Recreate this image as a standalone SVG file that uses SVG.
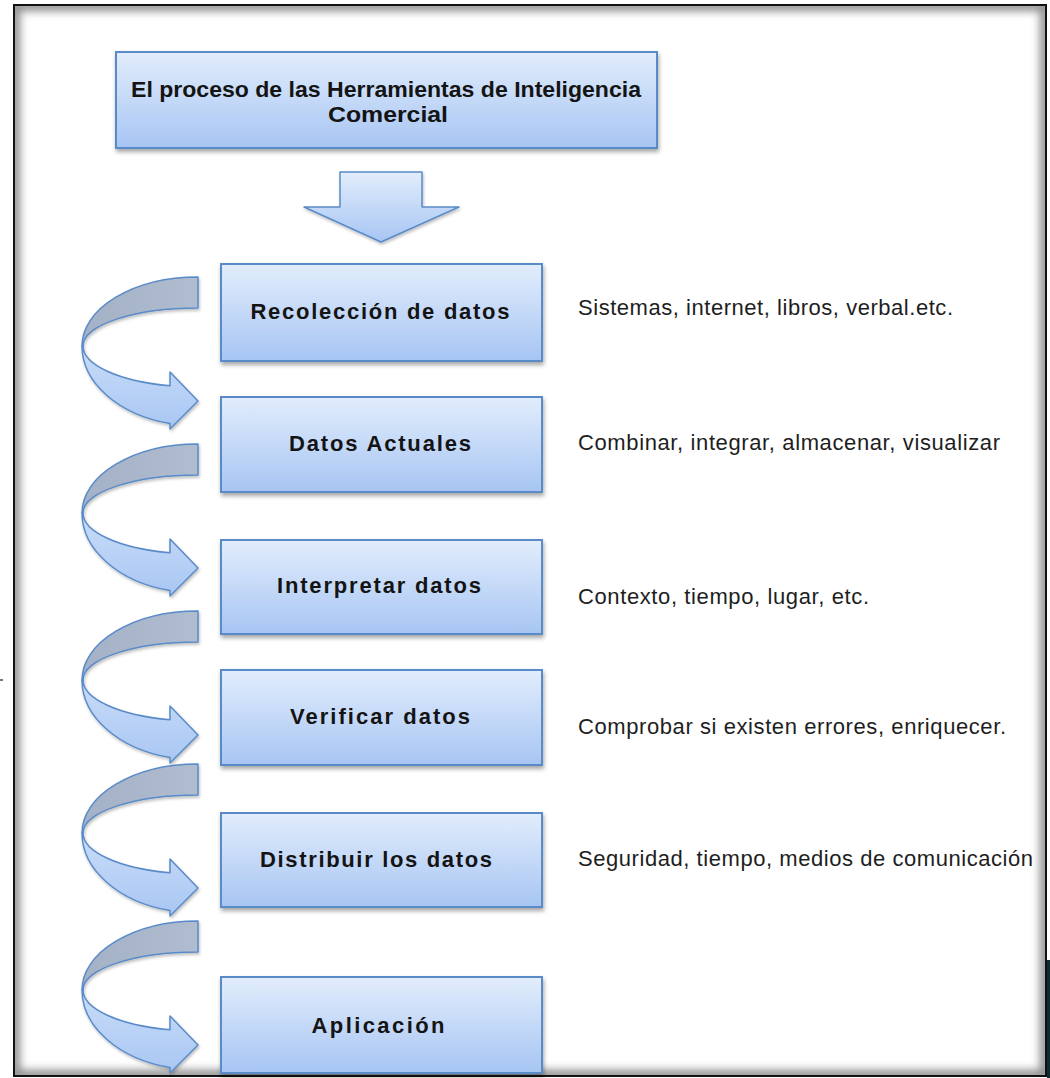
<svg xmlns="http://www.w3.org/2000/svg" width="1050" height="1078" viewBox="0 0 1050 1078">
<defs>
<style>
.box{fill:url(#boxGrad);stroke:#5a8bc9;stroke-width:2;filter:url(#shadow);}
.btxt{font-family:"Liberation Sans",Arial,sans-serif;font-weight:bold;font-size:22px;fill:#141414;text-anchor:middle;}
.ttxt{font-family:"Liberation Sans",Arial,sans-serif;font-weight:bold;font-size:22px;fill:#141414;text-anchor:middle;}
.rtxt{font-family:"Liberation Sans",Arial,sans-serif;font-size:22px;fill:#1e1e1e;}
.back{fill:url(#backGrad);stroke:#5a8bc9;stroke-width:1.5;stroke-linejoin:round;}
.front{fill:url(#frontGrad);stroke:#5a8bc9;stroke-width:1.5;stroke-linejoin:round;}
</style>
<linearGradient id="boxGrad" x1="0" y1="0" x2="0" y2="1">
<stop offset="0" stop-color="#e2edfc"/>
<stop offset="1" stop-color="#a7c5f3"/>
</linearGradient>
<linearGradient id="frontGrad" x1="0" y1="0" x2="0" y2="1">
<stop offset="0" stop-color="#c9dcf8"/>
<stop offset="1" stop-color="#a9c7f3"/>
</linearGradient>
<linearGradient id="backGrad" x1="0" y1="0" x2="1" y2="0">
<stop offset="0" stop-color="#a4b1c6"/>
<stop offset="1" stop-color="#b0bccf"/>
</linearGradient>
<filter id="shadow" x="-10%" y="-10%" width="120%" height="130%">
<feDropShadow dx="1" dy="3" stdDeviation="2" flood-color="#000" flood-opacity="0.35"/>
</filter>
<filter id="ashadow" x="-20%" y="-20%" width="140%" height="140%">
<feDropShadow dx="1" dy="2" stdDeviation="1.5" flood-color="#000" flood-opacity="0.25"/>
</filter>
<filter id="blur"><feGaussianBlur stdDeviation="4"/></filter>
<clipPath id="inner"><rect x="15" y="6" width="1030" height="1069"/></clipPath>
<g id="curved" filter="url(#ashadow)">
<path class="back" d="M198,-69 A116,69 0 0 0 82,0 L83,0 A115,38 0 0 1 198,-38 Z"/>
<path class="front" d="M82,0 A116,80 0 0 0 170,77.6 L170,83 L198,55 L170,26 L170,39.8 A115,41 0 0 1 83,0 Z"/>
</g>
</defs>
<rect x="0" y="0" width="1050" height="1078" fill="#ffffff"/>
<g id="frame">
<g clip-path="url(#inner)">
<rect x="15" y="6" width="1030" height="1069" fill="none" stroke="#8a8a8a" stroke-width="10" filter="url(#blur)"/>
</g>
<rect x="14" y="5" width="1032" height="1071" fill="none" stroke="#111" stroke-width="2"/>
<rect x="1047" y="960" width="3" height="118" fill="#0d2b30"/>
<rect x="0" y="679" width="3" height="2" fill="#777"/>
</g>
<g id="connectors">
<path id="down-arrow" d="M340,172 L422,172 L422,207 L459,207 L381,242 L304,207 L340,207 Z" fill="url(#boxGrad)" stroke="#5a8bc9" stroke-width="1.5" stroke-linejoin="round" filter="url(#ashadow)"/>
<use href="#curved" transform="translate(0,346)"/>
<use href="#curved" transform="translate(0,513)"/>
<use href="#curved" transform="translate(0,680)"/>
<use href="#curved" transform="translate(0,833)"/>
<use href="#curved" transform="translate(0,990)"/>
</g>
<g id="title">
<rect class="box" x="116" y="52" width="541" height="96"/>
<text class="ttxt" x="386" y="97" textLength="510" lengthAdjust="spacingAndGlyphs">El proceso de las Herramientas de Inteligencia</text>
<text class="ttxt" x="388" y="122" textLength="120" lengthAdjust="spacingAndGlyphs">Comercial</text>
</g>
<g id="recoleccion">
<rect class="box" x="221" y="264" width="321" height="97"/>
<text class="btxt" x="380" y="319" textLength="259">Recolección de datos</text>
</g>
<g id="actuales">
<rect class="box" x="221" y="397" width="321" height="95"/>
<text class="btxt" x="380" y="451" textLength="182">Datos Actuales</text>
</g>
<g id="interpretar">
<rect class="box" x="221" y="540" width="321" height="94"/>
<text class="btxt" x="379" y="593" textLength="204">Interpretar datos</text>
</g>
<g id="verificar">
<rect class="box" x="221" y="670" width="321" height="95"/>
<text class="btxt" x="380" y="724" textLength="180">Verificar datos</text>
</g>
<g id="distribuir">
<rect class="box" x="221" y="813" width="321" height="94"/>
<text class="btxt" x="376" y="867" textLength="232">Distribuir los datos</text>
</g>
<g id="aplicacion">
<rect class="box" x="221" y="977" width="321" height="96"/>
<text class="btxt" x="378" y="1033" textLength="133">Aplicación</text>
</g>
<g id="notes">
<text class="rtxt" x="578" y="315" textLength="375">Sistemas, internet, libros, verbal.etc.</text>
<text class="rtxt" x="578" y="450" textLength="422">Combinar, integrar, almacenar, visualizar</text>
<text class="rtxt" x="578" y="604" textLength="291">Contexto, tiempo, lugar, etc.</text>
<text class="rtxt" x="578" y="734" textLength="428">Comprobar si existen errores, enriquecer.</text>
<text class="rtxt" x="578" y="866" textLength="455">Seguridad, tiempo, medios de comunicación</text>
</g>
</svg>
